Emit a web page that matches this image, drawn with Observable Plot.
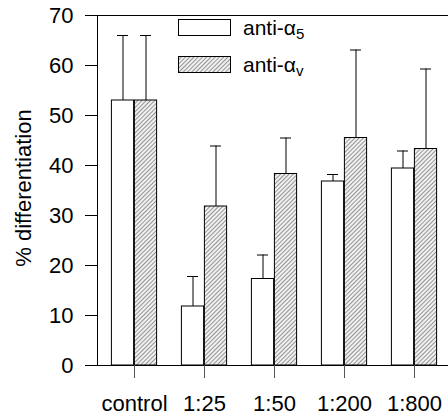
<!DOCTYPE html>
<html>
<head>
<meta charset="utf-8">
<script src="https://cdn.jsdelivr.net/npm/d3@7"></script>
<script src="https://cdn.jsdelivr.net/npm/@observablehq/plot@0.6"></script>
<style>
  html, body { margin: 0; padding: 0; background: white; }
  #chart { position: relative; width: 448px; height: 416px; overflow: hidden; }
</style>
</head>
<body>
<div id="chart"></div>
<script>
// Data
const categories = ["control", "1:25", "1:50", "1:200", "1:800"];
const seriesNames = ["anti-α5", "anti-αv"];
const antiA5 = [53, 11.8, 17.3, 36.8, 39.4];
const antiA5Err = [13, 6.0, 4.8, 1.4, 3.5];
const antiAv = [53, 31.8, 38.3, 45.5, 43.3];
const antiAvErr = [13, 12.1, 7.2, 17.6, 16.0];
const yTicks = [0, 10, 20, 30, 40, 50, 60, 70];

const rowsA = categories.map((c, i) => ({cat: c, series: seriesNames[0], value: antiA5[i], err: antiA5Err[i]}));
const rowsV = categories.map((c, i) => ({cat: c, series: seriesNames[1], value: antiAv[i], err: antiAvErr[i]}));

const FONT = "'Liberation Sans', Arial, Helvetica, sans-serif";

const plot = Plot.plot({
  width: 448,
  height: 416,
  marginLeft: 97,
  marginRight: -3,
  marginTop: 15,
  marginBottom: 51,
  style: {fontFamily: FONT, fontSize: "22px", background: "white", color: "black"},
  x: {type: "band", domain: categories, padding: 0, axis: null},
  y: {domain: [0, 70], axis: null},
  marks: [
    Plot.barY(rowsA, {x: "cat", y: "value", fill: "white", stroke: "black", strokeWidth: 1, insetLeft: 12.4, insetRight: 35.4}),
    Plot.barY(rowsV, {x: "cat", y: "value", fill: "url(#hatch)", stroke: "black", strokeWidth: 1, insetLeft: 35.4, insetRight: 12.4}),
    Plot.ruleX(rowsA, {x: "cat", y1: "value", y2: d => d.value + d.err, dx: -11.5, stroke: "black"}),
    Plot.ruleX(rowsV, {x: "cat", y1: "value", y2: d => d.value + d.err, dx: 11.5, stroke: "black"}),
    Plot.tickY(rowsA, {x: "cat", y: d => d.value + d.err, insetLeft: 18, insetRight: 41, stroke: "black"}),
    Plot.tickY(rowsV, {x: "cat", y: d => d.value + d.err, insetLeft: 41, insetRight: 18, stroke: "black"}),
    Plot.frame({stroke: "black"}),
    Plot.axisY({ticks: yTicks, tickSize: 12, tickPadding: 12, fontSize: 22, label: null, tickFormat: d => d}),
    Plot.axisX({tickSize: 13, tickPadding: 17, fontSize: 22, label: null, stroke: "#555"})
  ]
});

// hatch pattern
const svg = d3.select(plot);
const defs = svg.insert("defs", ":first-child");
const pat = defs.append("pattern")
  .attr("id", "hatch").attr("patternUnits", "userSpaceOnUse")
  .attr("width", 3).attr("height", 3)
  .attr("patternTransform", "rotate(45)");
pat.append("rect").attr("width", 3).attr("height", 3).attr("fill", "#f0f0f0");
pat.append("line").attr("x1", 0.5).attr("y1", 0).attr("x2", 0.5).attr("y2", 3)
  .attr("stroke", "#959595").attr("stroke-width", 1);

// y-axis title
svg.append("text")
  .attr("transform", "translate(30.5,188) rotate(-90)")
  .attr("text-anchor", "middle")
  .attr("font-family", FONT).attr("font-size", 22).attr("fill", "black")
  .text("% differentiation");

// legend
const legend = svg.append("g").attr("font-family", FONT).attr("fill", "black").attr("text-anchor", "start");
const legendItems = [
  {fill: "white", y: 19, base: "anti-α", sub: "5"},
  {fill: "url(#hatch)", y: 56, base: "anti-α", sub: "v"}
];
legendItems.forEach(it => {
  legend.append("rect").attr("x", 178.5).attr("y", it.y + 0.5).attr("width", 52).attr("height", 16)
    .attr("fill", it.fill).attr("stroke", "black");
  const t = legend.append("text").attr("x", 243).attr("y", it.y + 16).attr("font-size", 21);
  t.append("tspan").text(it.base);
  t.append("tspan").attr("font-size", 15).attr("dy", 4).text(it.sub);
});

document.getElementById("chart").appendChild(plot);
</script>
</body>
</html>
